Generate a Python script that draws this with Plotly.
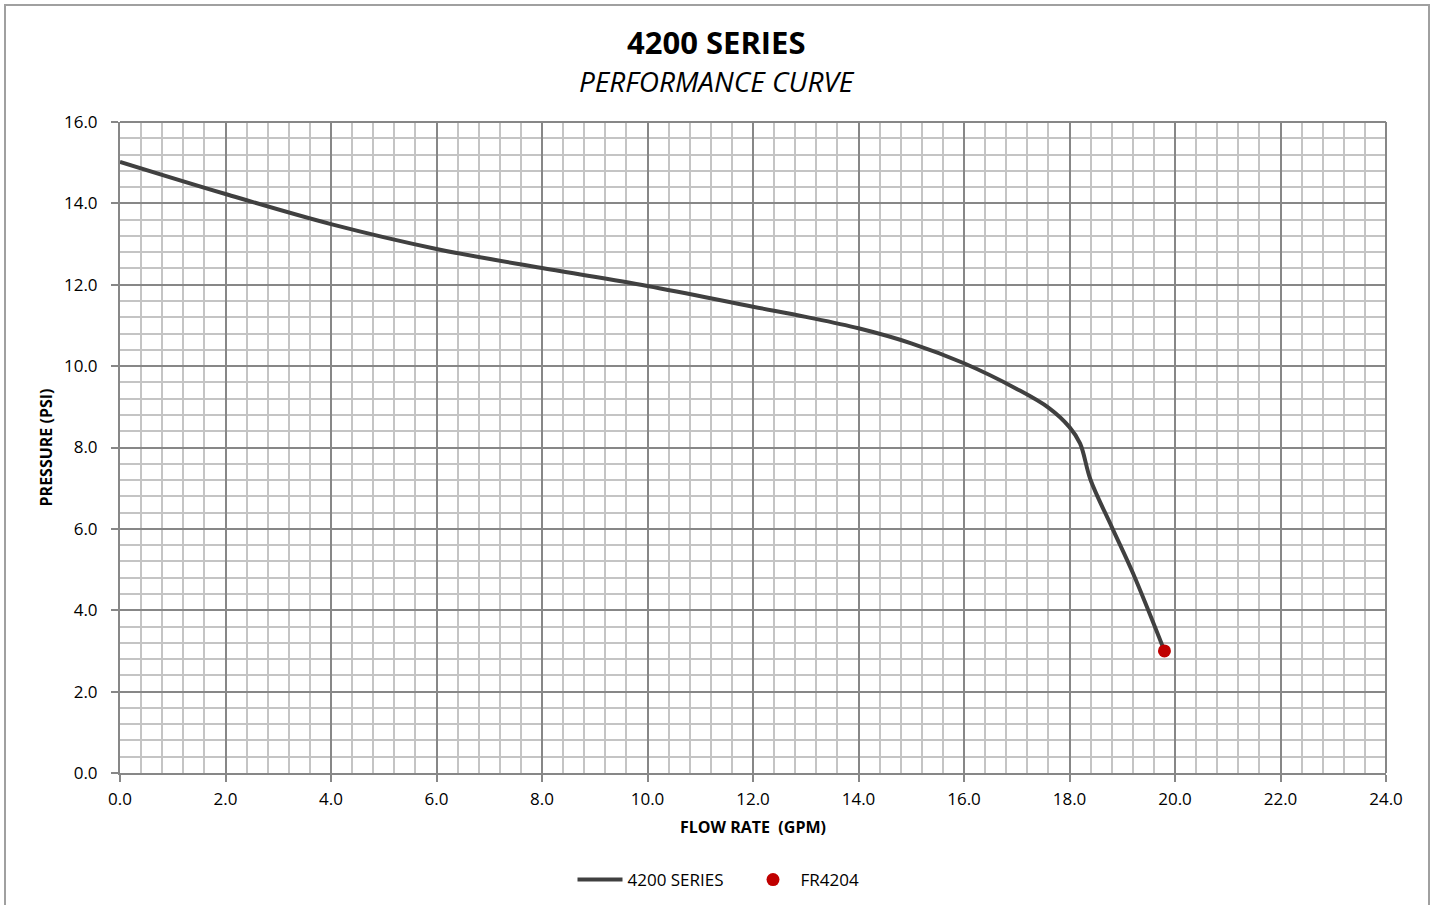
import plotly.graph_objects as go

flow_gpm = [0.0, 2.0, 4.0, 6.0, 8.0, 10.0, 12.0, 13.0, 14.0, 15.0, 16.0, 17.0, 17.6, 18.0, 18.2, 18.4, 18.8, 19.2, 19.8]
pressure_psi = [15.02, 14.23, 13.49, 12.88, 12.41, 11.97, 11.46, 11.21, 10.93, 10.56, 10.07, 9.44, 8.98, 8.5, 8.1, 7.2, 6.05, 4.92, 3.0]

fr_flow = [19.8]
fr_pressure = [3.0]

x_ticks = [0, 2, 4, 6, 8, 10, 12, 14, 16, 18, 20, 22, 24]
y_ticks = [0, 2, 4, 6, 8, 10, 12, 14, 16]

W, H = 1433, 905
L, R, T, B = 120, 47, 122, 132
pw, ph = W - L - R, H - T - B

def px(xp):
    return (xp - L) / pw

def py(yp):
    return (H - B - yp) / ph

FONT = "Open Sans"

fig = go.Figure()
fig.add_trace(go.Scatter(
    x=flow_gpm, y=pressure_psi, mode="lines", name="4200 SERIES",
    line=dict(color="#404040", width=4, shape="spline", smoothing=1.0),
))
fig.add_trace(go.Scatter(
    x=fr_flow, y=fr_pressure, mode="markers", name="FR4204",
    marker=dict(color="#c00000", size=13),
))

axis_common = dict(
    showgrid=True, gridcolor="#878787", gridwidth=1.5,
    showline=True, linecolor="#878787", linewidth=2, mirror=False,
    ticks="outside", ticklen=7, tickcolor="#878787", tickwidth=1.5,
    tickfont=dict(family=FONT, size=17, color="#000000"),
    zeroline=False, tickformat=".1f", automargin=False,
)

fig.update_xaxes(
    range=[0, 24], tickvals=x_ticks, **axis_common, ticklabelstandoff=3,
    minor=dict(dtick=0.4, tick0=0, showgrid=True, gridcolor="#c4c4c4", gridwidth=1.5, ticks=""),
    title=dict(text="<b>FLOW RATE  (GPM)</b>", font=dict(family=FONT, size=16, color="#000000"), standoff=12),
)
fig.update_yaxes(
    range=[0, 16], tickvals=y_ticks, **axis_common, ticklabelstandoff=10,
    minor=dict(dtick=0.4, tick0=0, showgrid=True, gridcolor="#c4c4c4", gridwidth=1.5, ticks=""),
    title=dict(text="<b>PRESSURE (PSI)</b>", font=dict(family=FONT, size=16, color="#000000"), standoff=7),
)

fig.update_layout(
    width=W, height=H, autosize=False,
    margin=dict(l=L, r=R, t=T, b=B, autoexpand=False),
    paper_bgcolor="#ffffff", plot_bgcolor="#ffffff",
    font=dict(family=FONT, color="#000000"),
    showlegend=True,
    legend=dict(
        orientation="h", x=px(W / 2 + 29), xanchor="center", xref="paper",
        y=py(880), yanchor="middle",
        font=dict(family=FONT, size=17, color="#000000"),
        itemwidth=45, entrywidth=113, entrywidthmode="pixels", traceorder="normal",
    ),
    annotations=[
        dict(text="<b>4200 SERIES</b>", xref="paper", yref="paper",
             x=px(W / 2), y=py(42), xanchor="center", yanchor="middle",
             showarrow=False, font=dict(family=FONT, size=31, color="#000000")),
        dict(text="<i>PERFORMANCE CURVE</i>", xref="paper", yref="paper",
             x=px(W / 2), y=py(81), xanchor="center", yanchor="middle",
             showarrow=False, font=dict(family=FONT, size=28, color="#000000")),
    ],
    shapes=[
        dict(type="rect", xref="paper", yref="paper",
             x0=px(5), x1=px(1429), y0=py(915), y1=py(5),
             line=dict(color="#a0a0a0", width=2), fillcolor="rgba(0,0,0,0)", layer="below"),
        dict(type="line", xref="paper", yref="paper", x0=0, x1=1, y0=1, y1=1,
             line=dict(color="#878787", width=2)),
        dict(type="line", xref="paper", yref="paper", x0=1, x1=1, y0=0, y1=1,
             line=dict(color="#878787", width=2)),
    ],
)

fig.write_html(
    "out.html",
    config={"displayModeBar": False},
    post_script="document.body.style.margin='0px';document.body.style.overflow='hidden';",
)
